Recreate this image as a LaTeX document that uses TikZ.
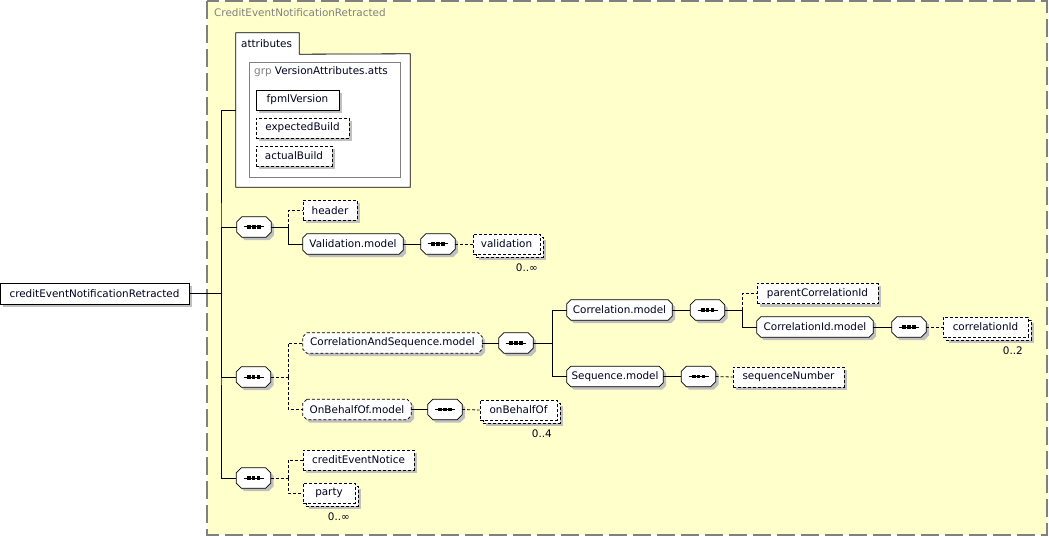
\documentclass[tikz,border=0pt]{standalone}
\usepackage{fontspec}
\setmainfont{DejaVu Sans}
\usetikzlibrary{shadows}
\definecolor{bgyellow}{RGB}{255,255,204}
\definecolor{framegray}{RGB}{128,128,128}
\definecolor{shadowgray}{RGB}{192,192,192}
\definecolor{txt}{RGB}{0,0,32}
\newcommand\elfont{\fontsize{10.4}{12}\selectfont}
% octagon (chamfered) node: [style]{name}{(x,y)}{width}{chamfer}{text}
\newcommand\octpath[2]{([xshift=#2]#1.north west) -- ([xshift=-#2]#1.north east) -- ([yshift=-#2]#1.north east) -- ([yshift=#2]#1.south east) -- ([xshift=-#2]#1.south east) -- ([xshift=#2]#1.south west) -- ([yshift=#2]#1.south west) -- ([yshift=-#2]#1.north west) -- cycle}
\newcommand\octnode[6][]{%
  \node[box, minimum width=#4] (#2) at #3 {};
  \fill[shadowgray, transform canvas={shift={(3pt,-3pt)}}] \octpath{#2}{#5};
  \draw[line width=0.8pt, fill=white, #1] \octpath{#2}{#5};
  \node[font=\elfont, text=txt, inner sep=0pt] (#2-t) at (#2.center) {#6};
}
\newcommand\seqnode[2]{%
  \octnode{#1}{#2}{34pt}{5pt}{}%
  \draw[line width=1pt] ([xshift=-10pt]#1.center) -- ([xshift=10pt]#1.center);
  \foreach \dx in {-4.8,0,4.8}{\fill ([xshift=\dx pt-1.8pt, yshift=-1.6pt]#1.center) rectangle ++(3.6pt,3.2pt);}%
}
\tikzset{
  x=1pt, y=-1pt,
  box/.style={inner sep=0pt, minimum height=20pt},
  base/.style={draw, fill=white, line width=0.8pt, inner sep=0pt, minimum height=20pt, font=\elfont, text=txt},
  gshadow/.style={general shadow={fill=shadowgray, shadow xshift=3pt, shadow yshift=-3pt}},
  elem/.style={base, gshadow},
  optb/.style={dash pattern=on 3pt off 2pt},
  multi/.style={base, optb,
    general shadow={fill=shadowgray, shadow xshift=6pt, shadow yshift=-6pt},
    general shadow={fill=white, draw=black, line width=0.8pt, dash pattern=on 3pt off 2pt, shadow xshift=3pt, shadow yshift=-3pt}},
  conn/.style={line width=0.8pt},
  optl/.style={dash pattern=on 3pt off 2pt},
  mult/.style={font=\elfont, text=txt, inner sep=0pt},
}
\begin{document}
\begin{tikzpicture}
\useasboundingbox (0,0) rectangle (1049,537);
% container
\draw[framegray, line width=1.5pt, dash pattern=on 18pt off 6pt, fill=bgyellow] (207,1) rectangle (1047,535);
\node[font=\elfont, text=framegray, anchor=west, inner sep=0pt] (title) at (214,13) {CreditEventNotificationRetracted};

% attributes
\node[minimum width=174pt, minimum height=133pt, inner sep=0pt] (attrbox) at (323,120.5) {};
\node[minimum width=63pt, minimum height=21pt, inner sep=0pt] (attrtab) at (267.5,43.5) {};
\draw[line width=0.8pt, fill=white] (attrbox.south west) -- (attrtab.north west) -- (attrtab.north east) -- (attrtab.south east) -- (attrbox.north east) -- (attrbox.south east) -- cycle;
\node[font=\elfont, text=txt, anchor=west, inner sep=0pt] (attrlabel) at (241,43.5) {attributes};
\node[draw=framegray, line width=0.8pt, minimum width=151pt, minimum height=115pt, inner sep=0pt] (grp) at (324.5,119.5) {};
\node[font=\elfont, text=txt, anchor=west, inner sep=0pt] (grplabel) at (254,72) {\textcolor{framegray}{grp} VersionAttributes.atts};
\node[elem, minimum width=83pt] (fpml) at (297.5,100) {fpmlVersion};
\node[elem, optb, minimum width=93pt] (expb) at (302.5,128) {expectedBuild};
\node[elem, optb, minimum width=76pt] (actb) at (294,156) {actualBuild};

% root
\node[elem, minimum width=189pt, minimum height=21pt] (root) at (94.5,293.5) {creditEventNotificationRetracted};
\coordinate (tr) at (221,293.5);
\coordinate (attrIn) at (236,110);

% sequence 1
\seqnode{s1}{(254,227)}
\node[elem, optb, minimum width=54pt] (header) at (330,210.5) {header};
\octnode{valm}{(353,244)}{100pt}{4pt}{Validation.model}
\seqnode{s1b}{(438,244)}
\node[multi, minimum width=67pt] (validation) at (506.5,244) {validation};
\node[mult, anchor=east] (m1) at (538,268) {0..\char"221E};

% sequence 2
\seqnode{s2}{(253.5,377)}
\octnode[optb]{cas}{(392.5,343)}{179pt}{4pt}{CorrelationAndSequence.model}
\seqnode{s2b}{(516,343)}
\octnode{corrm}{(619.5,310)}{105pt}{4pt}{Correlation.model}
\seqnode{s3}{(707.5,310)}
\node[elem, optb, minimum width=121pt] (pcid) at (817.5,293.5) {parentCorrelationId};
\octnode{cidm}{(815,327)}{116pt}{4pt}{CorrelationId.model}
\seqnode{s4}{(909,327)}
\node[multi, minimum width=85pt] (cid) at (985.5,327) {correlationId};
\node[mult, anchor=east] (m2) at (1023,351) {0..2};
\octnode{seqm}{(615,376.5)}{96pt}{4pt}{Sequence.model}
\seqnode{s5}{(698.5,376.5)}
\node[elem, optb, minimum width=111pt] (seqnum) at (788.5,377) {sequenceNumber};
\octnode[optb]{obm}{(357,409.5)}{108pt}{4pt}{OnBehalfOf.model}
\seqnode{s6}{(445,409.5)}
\node[multi, minimum width=77pt] (obo) at (518.5,410) {onBehalfOf};
\node[mult, anchor=east] (m3) at (552,434) {0..4};

% sequence 3
\seqnode{s7}{(253.5,478)}
\node[elem, optb, minimum width=111pt] (cen) at (358.5,460) {creditEventNotice};
\node[multi, minimum width=52pt] (party) at (329,493) {party};
\node[mult, anchor=east] (m4) at (350,517) {0..\char"221E};

% connectors
\draw[conn] (root.east) -- (tr);
\draw[conn] (attrIn) -| (tr) |- (s7.west);
\draw[conn] (tr) |- (s1.west);
\draw[conn] (tr) |- (s2.west);

\coordinate (b1) at (288,227);
\draw[conn] (s1.east) -- (b1);
\draw[conn] (b1) |- (valm.west);
\draw[conn, optl] (b1) |- (header.west);
\draw[conn] (valm.east) -- (s1b.west);
\draw[conn, optl] (s1b.east) -- (validation.west);

\coordinate (b2) at (288,377);
\draw[conn, optl] (s2.east) -- (b2);
\draw[conn, optl] (b2) |- (cas.west);
\draw[conn, optl] (b2) |- (obm.west);
\draw[conn] (cas.east) -- (s2b.west);
\coordinate (b3) at (552,343);
\draw[conn] (s2b.east) -- (b3);
\draw[conn] (b3) |- (corrm.west);
\draw[conn] (b3) |- (seqm.west);
\draw[conn] (corrm.east) -- (s3.west);
\coordinate (b4) at (742,310);
\draw[conn] (s3.east) -- (b4);
\draw[conn, optl] (b4) |- (pcid.west);
\draw[conn] (b4) |- (cidm.west);
\draw[conn] (cidm.east) -- (s4.west);
\draw[conn, optl] (s4.east) -- (cid.west);
\draw[conn] (seqm.east) -- (s5.west);
\draw[conn, optl] (s5.east) -- (seqnum.west);
\draw[conn] (obm.east) -- (s6.west);
\draw[conn, optl] (s6.east) -- (obo.west);

\coordinate (b5) at (288,478);
\draw[conn, optl] (s7.east) -- (b5);
\draw[conn, optl] (b5) |- (cen.west);
\draw[conn, optl] (b5) |- (party.west);
\end{tikzpicture}
\end{document}
